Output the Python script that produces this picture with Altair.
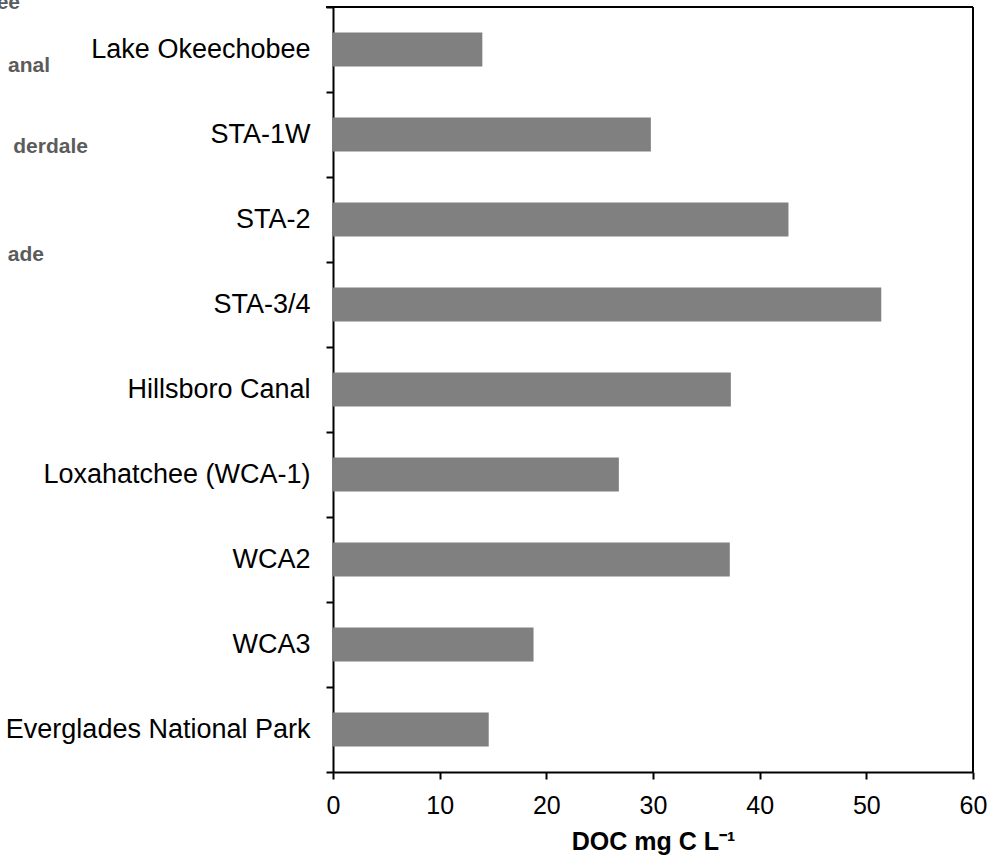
import altair as alt
import pandas as pd

# Mean dissolved organic carbon by site
sites = [
    "Lake Okeechobee",
    "STA-1W",
    "STA-2",
    "STA-3/4",
    "Hillsboro Canal",
    "Loxahatchee (WCA-1)",
    "WCA2",
    "WCA3",
    "Everglades National Park",
]
doc_values = [14.0, 29.8, 42.7, 51.4, 37.3, 26.8, 37.2, 18.8, 14.6]

# Map place-name fragments at the left margin
map_labels = ["ee", "anal", "derdale", "ade"]
map_label_x = [-313, -283, -245, -289]
map_label_y = [-4, 59, 140, 248]

df = pd.DataFrame({"site": sites, "doc": doc_values})
frag = pd.DataFrame({"t": map_labels, "px": map_label_x, "py": map_label_y})

FONT = "Liberation Sans"
W, H = 640, 765

bars = alt.Chart(df).mark_bar(color="#808080", size=34).encode(
    x=alt.X(
        "doc:Q",
        scale=alt.Scale(domain=[0, 60], nice=False),
        axis=alt.Axis(
            values=[0, 10, 20, 30, 40, 50, 60],
            title="DOC mg C L\u207b\u00b9",
            titleFont=FONT,
            titleFontSize=25,
            titleFontWeight="bold",
            titleColor="black",
            titlePadding=11,
            labelFont=FONT,
            labelFontSize=25,
            labelColor="black",
            labelPadding=14,
            labelFlush=False,
            labelOverlap=False,
            tickSize=7,
            tickColor="black",
            tickWidth=2,
            domainColor="black",
            domainWidth=2,
            grid=False,
        ),
    ),
    y=alt.Y(
        "site:N",
        sort=sites,
        scale=alt.Scale(paddingInner=0, paddingOuter=0),
        axis=alt.Axis(
            title=None,
            labelFont=FONT,
            labelFontSize=27,
            labelColor="black",
            labelPadding=16,
            tickBand="extent",
            tickSize=7,
            tickColor="black",
            tickWidth=2,
            domainColor="black",
            domainWidth=2,
            labelLimit=400,
        ),
    ),
)

# Frame lines closing the plot box on top and right
top_rule = alt.Chart(df).mark_rule(color="black", strokeWidth=2).encode(
    x=alt.value(-7), x2=alt.value(W), y=alt.value(0)
)
right_rule = alt.Chart(df).mark_rule(color="black", strokeWidth=2).encode(
    x=alt.value(W), y=alt.value(0), y2=alt.value(H)
)

frags = alt.Chart(frag).mark_text(
    align="right",
    baseline="middle",
    font=FONT,
    fontSize=21,
    fontWeight="bold",
    color="#333333",
    opacity=0.8,
).encode(
    text="t:N",
    x=alt.X("px:Q", scale=None),
    y=alt.Y("py:Q", scale=None),
)

chart = (
    alt.layer(bars, top_rule, right_rule, frags)
    .properties(
        width=W,
        height=H,
        padding={"left": 333, "top": 7, "right": 26, "bottom": 93},
        autosize=alt.AutoSizeParams(type="none"),
    )
    .configure_view(stroke=None)
    .configure(background="white")
)

chart.save("out.html", embed_options={"renderer": "svg", "actions": False})
